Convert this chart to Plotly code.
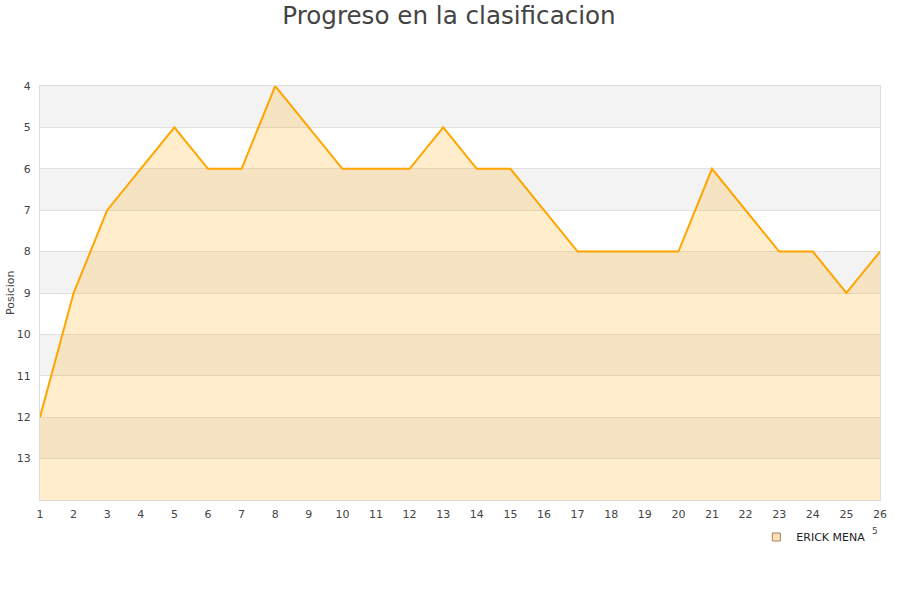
import plotly.graph_objects as go

jornadas = list(range(1, 27))
posiciones = [12, 9, 7, 6, 5, 6, 6, 4, 5, 6, 6, 6, 5, 6, 6, 7, 8, 8, 8, 8, 6, 7, 8, 8, 9, 8]
y_ticks = list(range(4, 14))
y_bottom = 14
y_top = 4
serie = "ERICK MENA"

fig = go.Figure()

# baseline for fill
fig.add_trace(go.Scatter(x=jornadas, y=[y_bottom] * len(jornadas), mode="lines",
                         line=dict(width=0, color="rgba(0,0,0,0)"), showlegend=False,
                         hoverinfo="skip"))
fig.add_trace(go.Scatter(x=jornadas, y=posiciones, mode="lines", fill="tonexty",
                         fillcolor="rgba(255,165,0,0.2)",
                         line=dict(color="#FFA500", width=2), showlegend=False, name=serie))
# legend entry
fig.add_trace(go.Scatter(x=[None], y=[None], mode="markers", name=serie,
                         marker=dict(symbol="square", size=8, color="rgba(255,225,180,1)",
                                     line=dict(color="#a08060", width=1))))

shapes = []
for a in range(y_top, y_bottom, 2):
    shapes.append(dict(type="rect", xref="paper", x0=0, x1=1, yref="y", y0=a, y1=a + 1,
                       fillcolor="#f3f3f3", line=dict(width=0), layer="below"))

fig.update_layout(
    width=900, height=600,
    paper_bgcolor="white", plot_bgcolor="white",
    margin=dict(l=40, r=20, t=86, b=100),
    title=dict(text="Progreso en la clasificacion", x=449 / 900, xanchor="center",
               yref="container", y=1 - 15 / 600, yanchor="middle",
               font=dict(family="DejaVu Sans", size=24.6, color="#444")),
    font=dict(family="DejaVu Sans", size=11, color="#444"),
    shapes=shapes,
    annotations=[
        dict(text="Posicion", xref="paper", yref="paper", x=-30 / 840, y=0.5,
             xanchor="center", yanchor="middle", textangle=-90, showarrow=False,
             font=dict(size=11, color="#444")),
        dict(text="5", xref="paper", yref="paper", x=(875 - 40) / 840, y=-31 / 414,
             xanchor="center", yanchor="middle", showarrow=False,
             font=dict(size=9, color="#444")),
    ],
    xaxis=dict(range=[1, 26], tickmode="array", tickvals=jornadas, showgrid=False,
               zeroline=False, showline=True, linecolor="#dddddd", mirror=True,
               ticks="", automargin=False, ticklabelstandoff=4,
               tickfont=dict(size=11, color="#444")),
    yaxis=dict(range=[y_bottom, y_top], tickmode="array", tickvals=y_ticks,
               showgrid=True, gridcolor="#e0e0e0", zeroline=False, showline=True,
               linecolor="#dddddd", mirror=True, ticks="", automargin=False,
               ticklabelstandoff=6,
               tickfont=dict(size=11, color="#444")),
    legend=dict(x=0.9885, xanchor="right", y=-37 / 414, yanchor="middle", orientation="h",
                font=dict(size=11, color="#222"), bgcolor="rgba(0,0,0,0)",
                itemwidth=30),
)

fig.write_html("out.html", config={"displayModeBar": False},
               post_script="document.body.style.margin='0px';")
